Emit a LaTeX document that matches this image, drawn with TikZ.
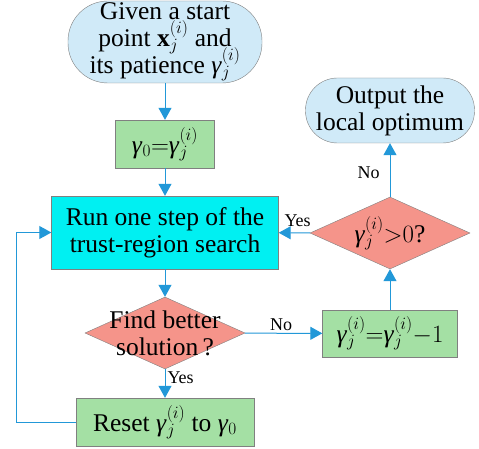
\documentclass[tikz,border=0pt]{standalone}
\usepackage{fontspec}
\setmainfont{Liberation Serif}
\usetikzlibrary{shapes.geometric,arrows.meta}
\definecolor{termblue}{RGB}{208,234,248}
\definecolor{stepgreen}{RGB}{164,224,164}
\definecolor{runcyan}{RGB}{0,240,242}
\definecolor{askred}{RGB}{245,148,138}
\definecolor{framegray}{RGB}{128,128,128}
\definecolor{flowblue}{RGB}{34,152,216}
\newcommand{\gam}{\textit{γ}}
\newcommand{\bigfont}{\fontsize{25.5}{27}\selectfont\lineskiplimit=-30pt\relax}
\begin{document}
\begin{tikzpicture}[x=1pt, y=-1pt]
  \fill [white] (0, 0) rectangle (479, 449);  % fixes the margins
  \tikzstyle{big}=[font=\bigfont, align=center]
  \tikzstyle{term}=[big, rectangle, draw=framegray, fill=termblue, inner sep=0pt]
  \tikzstyle{proc}=[big, rectangle, draw=framegray, fill=stepgreen, inner sep=0pt]
  \tikzstyle{ask}=[diamond, draw=framegray, fill=askred, inner sep=0pt, minimum width=160pt, minimum height=72pt]
  \tikzstyle{tag}=[font=\fontsize{18}{18}\selectfont, inner sep=2pt]
  \tikzstyle{flow}=[draw=flowblue, line width=1pt, -{Triangle[length=12pt, width=13pt]}]

  \node[term, rounded corners=40pt, minimum width=194pt, minimum height=82pt] (1) at (165, 42)
    {Given a start\\ point $\mathbf{x}_j^{(i)}$ and\\ its patience \gam$_j^{(i)}$};
  \node[proc, minimum width=99pt, minimum height=48pt] (2) at (165, 144) {\gam$_0{=}$\gam$_j^{(i)}$};
  \node[proc, fill=runcyan, minimum width=227pt, minimum height=73pt] (3) at (165, 232.5)
    {Run one step of the\\ trust-region search};
  \node[ask, label={[big]center:Find better\\ solution\,?}] (4) at (165, 333) {};
  \node[proc, minimum width=135pt, minimum height=47pt] (5) at (390, 333.5)
    {\gam$_j^{(i)}{=}$\gam$_j^{(i)}{-}1$};
  \node[ask, label={[big]center:\gam$_j^{(i)}{>}0$?}] (6) at (390, 233) {};
  \node[term, rounded corners=32pt, minimum width=169pt, minimum height=65pt] (7) at (390, 110.5)
    {Output the\\ local optimum};
  \node[proc, minimum width=178pt, minimum height=48pt] (8) at (165, 422)
    {Reset \gam$_j^{(i)}$ to \gam$_0$};

  \path[flow] (1) -- (2);
  \path[flow] (2) -- (3);
  \path[flow] (3) -- (4);
  \path[flow] (4) -- node[tag, right, pos=0.3] {Yes} (8);
  \path[flow] (4) -- node[tag, above, pos=0.47] {No} (5);
  \path[flow] (5) -- (6);
  \path[flow] (6) -- node[tag, left, pos=0.45, xshift=-8pt] {No} (7);
  \path[flow] (6) -- node[tag, above, pos=0.4, yshift=4pt] {Yes} (3);
  \path[flow] (8.west) -- ++(-59, 0) |- (3);
\end{tikzpicture}
\end{document}
